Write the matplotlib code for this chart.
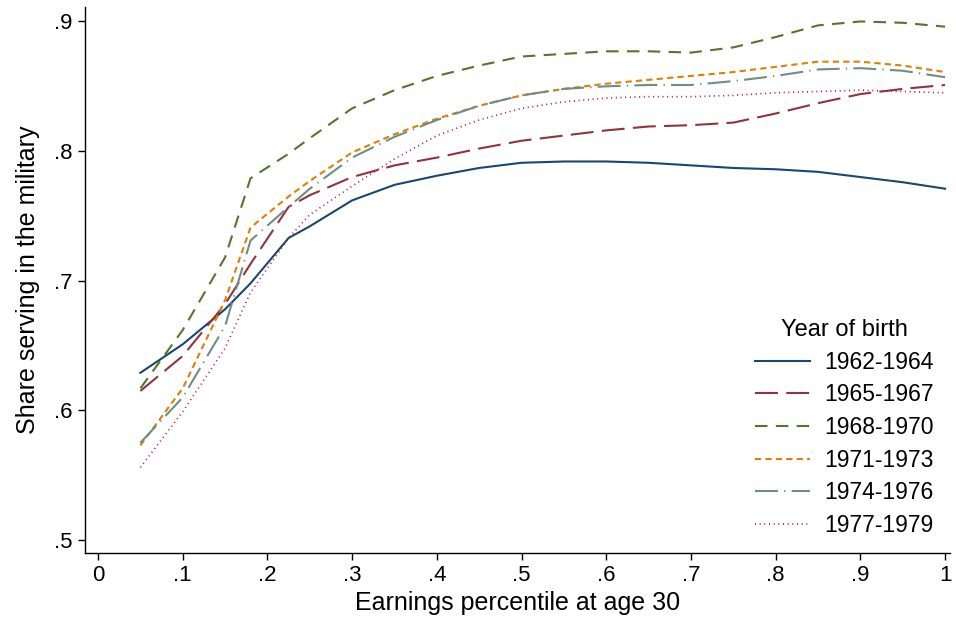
import matplotlib
matplotlib.use("Agg")
import matplotlib.pyplot as plt
from matplotlib.ticker import FixedLocator, FixedFormatter

plt.rcParams['font.family'] = ['Liberation Sans', 'DejaVu Sans']

# Earnings percentile at age 30 (evaluation points)
pct = [0.05, 0.10, 0.15, 0.18, 0.225, 0.25, 0.30, 0.35, 0.40, 0.45, 0.50,
       0.55, 0.60, 0.65, 0.70, 0.75, 0.80, 0.85, 0.90, 0.95, 1.00]

# Share serving in the military, by birth cohort
share_1962_1964 = [0.629, 0.651, 0.678, 0.698, 0.733, 0.742, 0.762, 0.774, 0.781, 0.787, 0.791,
                   0.792, 0.792, 0.791, 0.789, 0.787, 0.786, 0.784, 0.780, 0.776, 0.771]
share_1965_1967 = [0.615, 0.642, 0.682, 0.713, 0.757, 0.766, 0.780, 0.789, 0.795, 0.802, 0.808,
                   0.812, 0.816, 0.819, 0.820, 0.822, 0.829, 0.837, 0.844, 0.848, 0.851]
share_1968_1970 = [0.617, 0.662, 0.718, 0.779, 0.798, 0.810, 0.833, 0.847, 0.858, 0.866, 0.873,
                   0.875, 0.877, 0.877, 0.876, 0.880, 0.888, 0.897, 0.900, 0.899, 0.896]
share_1971_1973 = [0.573, 0.617, 0.685, 0.741, 0.765, 0.777, 0.799, 0.813, 0.825, 0.835, 0.843,
                   0.848, 0.852, 0.855, 0.858, 0.861, 0.865, 0.869, 0.869, 0.866, 0.861]
share_1974_1976 = [0.575, 0.610, 0.665, 0.731, 0.757, 0.771, 0.795, 0.811, 0.824, 0.835, 0.843,
                   0.848, 0.850, 0.851, 0.851, 0.854, 0.858, 0.863, 0.864, 0.862, 0.857]
share_1977_1979 = [0.556, 0.599, 0.648, 0.691, 0.733, 0.751, 0.773, 0.794, 0.812, 0.824, 0.833,
                   0.838, 0.841, 0.842, 0.842, 0.843, 0.845, 0.846, 0.847, 0.846, 0.845]

cohorts = ["1962-1964", "1965-1967", "1968-1970", "1971-1973", "1974-1976", "1977-1979"]
series = [share_1962_1964, share_1965_1967, share_1968_1970,
          share_1971_1973, share_1974_1976, share_1977_1979]

x_ticks = [0, 0.1, 0.2, 0.3, 0.4, 0.5, 0.6, 0.7, 0.8, 0.9, 1.0]
x_tick_labels = ["0", ".1", ".2", ".3", ".4", ".5", ".6", ".7", ".8", ".9", "1"]
y_ticks = [0.5, 0.6, 0.7, 0.8, 0.9]
y_tick_labels = [".5", ".6", ".7", ".8", ".9"]

colors = ["#1a476f", "#90353b", "#55752f", "#e37e00", "#6e8e84", "#c10534"]
styles = ["-", (0, (11, 4)), (0, (6, 4)), (0, (3, 2)), (0, (11, 3, 0.6, 3)), (0, (0.6, 2.2))]
widths = [1.5, 1.5, 1.5, 1.5, 1.5, 1.2]

fig = plt.figure(figsize=(9.56, 6.23), dpi=100)
ax = fig.add_axes([0.0889, 0.1124, 0.905, 0.876])

for vals, lab, c, ls, lw in zip(series, cohorts, colors, styles, widths):
    ax.plot(pct, vals, color=c, linestyle=ls, linewidth=lw, label=lab)

ax.set_xlim(-0.0154, 1.006)
ax.set_ylim(0.49, 0.911)
ax.xaxis.set_major_locator(FixedLocator(x_ticks))
ax.xaxis.set_major_formatter(FixedFormatter(x_tick_labels))
ax.yaxis.set_major_locator(FixedLocator(y_ticks))
ax.yaxis.set_major_formatter(FixedFormatter(y_tick_labels))

for side in ("top", "right"):
    ax.spines[side].set_visible(False)
for side in ("left", "bottom"):
    ax.spines[side].set_linewidth(1.0)
ax.tick_params(direction="out", length=5, width=1.0, labelsize=16, pad=4)

ax.set_xlabel("Earnings percentile at age 30", fontsize=18, labelpad=3)
ax.set_ylabel("Share serving in the military", fontsize=18, labelpad=10)

leg = ax.legend(title="Year of birth", loc="lower right", bbox_to_anchor=(1.0, 0.0),
                frameon=False, fontsize=16.5, title_fontsize=17, handlelength=2.4,
                labelspacing=0.42, handletextpad=0.65, borderaxespad=0.3)

fig.savefig("out.png", dpi=100)
